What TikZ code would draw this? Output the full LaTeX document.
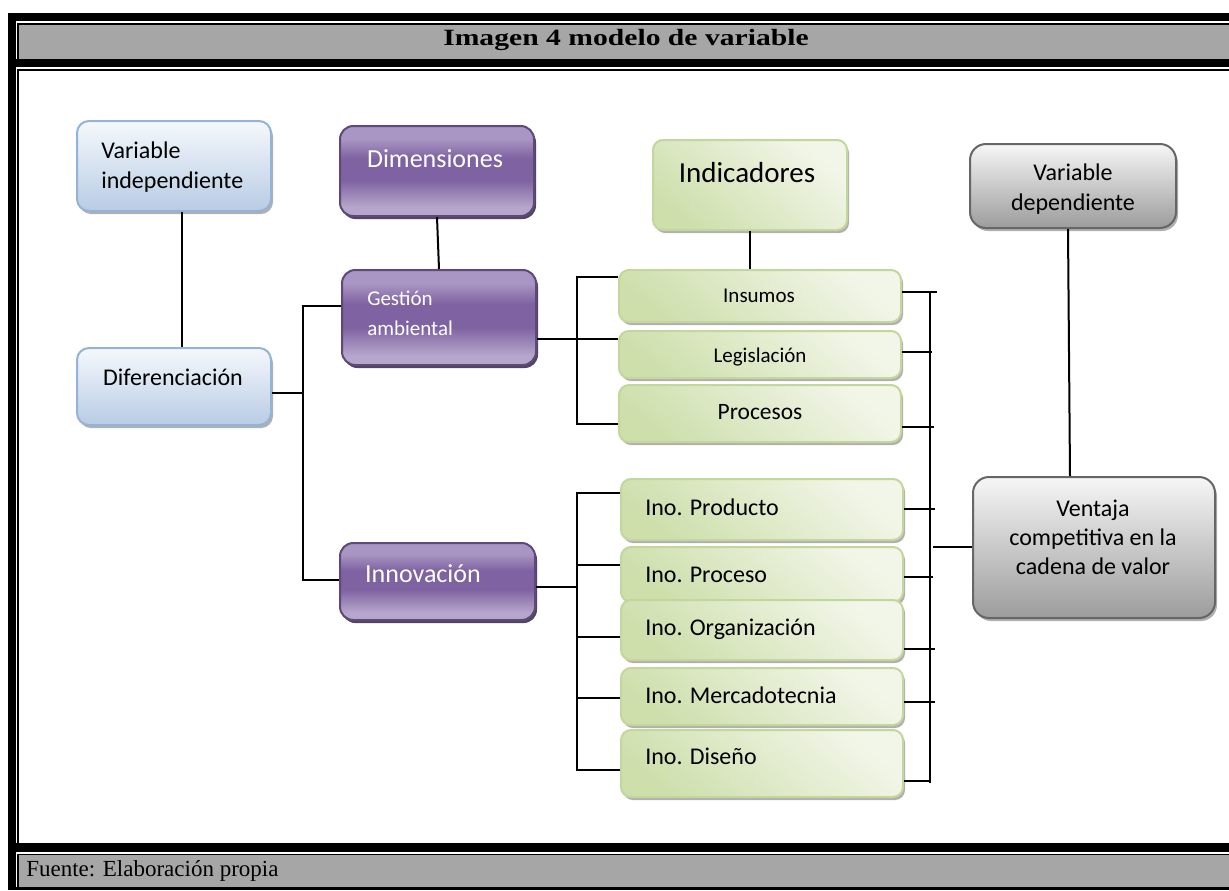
\documentclass[tikz,border=0pt]{standalone}
\usepackage{graphicx}
\usepackage{fontspec}
\setmainfont{Carlito}
\newfontfamily\timesf{Liberation Serif}
\usetikzlibrary{shadows,fit}
\definecolor{frameGray}{HTML}{A6A6A6}
\definecolor{bTop}{HTML}{F5F8FC}
\definecolor{bBot}{HTML}{B8CCE4}
\definecolor{bBrd}{HTML}{95B3D7}
\definecolor{pLight}{HTML}{B6A6CB}
\definecolor{pDark}{HTML}{7E62A1}
\definecolor{pTopc}{HTML}{AA96C4}
\definecolor{pBrd}{HTML}{5F497A}
\definecolor{pShadow}{HTML}{3F3151}
\definecolor{gLight}{HTML}{F2F6E9}
\definecolor{gDark}{HTML}{CEDFAC}
\definecolor{gBrd}{HTML}{C3D69B}
\definecolor{kTop}{HTML}{F6F6F6}
\definecolor{kBot}{HTML}{9C9C9C}
\definecolor{kBrd}{HTML}{666666}
\definecolor{shGray}{HTML}{A8A8A8}
\pgfdeclareverticalshading{purpsh}{100bp}{color(0bp)=(pLight); color(30bp)=(pLight); color(45bp)=(pDark); color(57bp)=(pDark); color(68bp)=(pTopc); color(100bp)=(pTopc)}
\newcommand\fsA{\fontsize{18pt}{22.5pt}\selectfont}
\newcommand\fsB{\fontsize{19.5pt}{23pt}\selectfont}
\newcommand\fsC{\fontsize{15.75pt}{22.5pt}\selectfont}
\newcommand\fsD{\fontsize{21.75pt}{26pt}\selectfont}
\newcommand\fsE{\fontsize{17.6pt}{21pt}\selectfont}
\newcommand\fsV{\fontsize{18pt}{21.5pt}\selectfont}
\newcommand\titlefont{\timesf\bfseries\fontsize{17.5pt}{20pt}\selectfont}
\newcommand\footfont{\timesf\fontsize{17.25pt}{20pt}\selectfont}
\begin{document}
\begin{tikzpicture}[x=0.75pt,y=-0.75pt,
  box/.style={inner sep=0pt, line width=1.5pt, rounded corners=9pt},
  bluebox/.style={box, draw=bBrd, top color=bTop, bottom color=bBot,
    drop shadow={shadow xshift=1.5pt, shadow yshift=-2.25pt, fill=shGray, opacity=0.9}},
  purpbox/.style={box, rounded corners=10pt, draw=pBrd, shade, shading=purpsh,
    drop shadow={shadow xshift=1.5pt, shadow yshift=-2.25pt, fill=pShadow, opacity=0.9}},
  greenbox/.style={box, rounded corners=7.5pt, draw=gBrd, top color=gLight, bottom color=gDark, shading angle=-40,
    drop shadow={shadow xshift=1.5pt, shadow yshift=-2.25pt, fill=shGray, opacity=0.9}},
  graybox/.style={box, rounded corners=12pt, draw=kBrd, top color=kTop, bottom color=kBot,
    drop shadow={shadow xshift=1.5pt, shadow yshift=-2.25pt, fill=shGray, opacity=0.9}},
  txt/.style={inner sep=0pt, text=black},
  wtxt/.style={inner sep=0pt, text=white},
  conn/.style={line width=1.5pt, draw=black}]
\useasboundingbox (0,0) rectangle (1229,890);
% table frame
\fill[black] (8,12.7) rectangle (1229,890);
\fill[white] (16,21.3) rectangle (1229,58.7);
\fill[black] (17.3,22.7) rectangle (1229,58.7);
\fill[frameGray] (19.3,24.7) rectangle (1229,58.7);
\fill[white] (16,66.7) rectangle (1229,843.3);
\fill[black] (17.3,68.7) rectangle (1229,843.3);
\fill[white] (19.3,70.7) rectangle (1229,843.3);
\fill[white] (16,852) rectangle (1229,887);
\fill[black] (17.3,854) rectangle (1229,887);
\fill[frameGray] (19.3,855.3) rectangle (1229,887);
\node[anchor=base, inner sep=0pt] (title) at (626,45) {\scalebox{1.27}[1]{\titlefont Imagen 4 modelo de variable}};
\node[anchor=base west, inner sep=0pt] (source) at (26,876.7) {\footfont Fuente: Elaboración propia};
% boxes
\node[bluebox, fit={(77,121) (271,211)}] (vi) {};
\node[bluebox, fit={(77,348) (271,425)}] (dif) {};
\node[purpbox, fit={(340,126) (534,216)}] (dim) {};
\node[purpbox, fit={(342,270) (536,365)}] (gest) {};
\node[purpbox, fit={(340,543) (535,620)}] (innov) {};
\node[greenbox, fit={(653,140) (847,230)}] (ind) {};
\node[greenbox, fit={(619,270) (901,322)}] (ins) {};
\node[greenbox, fit={(619,331) (901,378)}] (leg) {};
\node[greenbox, fit={(619,385) (901,442)}] (pro) {};
\node[greenbox, fit={(621,479) (903,540)}] (iprod) {};
\node[greenbox, fit={(621,547) (903,602)}] (iproc) {};
\node[greenbox, fit={(621,600) (903,660)}] (iorg) {};
\node[greenbox, fit={(621,668) (903,725)}] (imer) {};
\node[greenbox, fit={(621,730) (903,797)}] (idis) {};
\node[graybox, fit={(970,144) (1176,228)}] (vd) {};
\node[graybox, fit={(973,477) (1215,618)}] (vent) {};
% texts
\node[txt, anchor=base west] (viT) at (101,158) {\fsA\begin{tabular}[t]{@{}l@{}}Variable\\independiente\end{tabular}};
\node[txt, anchor=base] (difT) at (173,385) {\fsA Diferenciación};
\node[wtxt, anchor=base] (dimT) at (435,167) {\fsB Dimensiones};
\node[wtxt, anchor=base west] (gestT) at (367,305) {\fsC\begin{tabular}[t]{@{}l@{}}Gestión\\ambiental\end{tabular}};
\node[wtxt, anchor=base] (innovT) at (423,582) {\fsB Innovación};
\node[txt, anchor=base] (indT) at (747,182) {\fsD Indicadores};
\node[txt, anchor=base] (insT) at (759,302.7) {\fsC Insumos};
\node[txt, anchor=base] (legT) at (760,362) {\fsC Legislación};
\node[txt, anchor=base] (proT) at (760,419) {\fsE Procesos};
\node[txt, anchor=base west] (iprodT) at (645,515) {\fsA Ino. Producto};
\node[txt, anchor=base west] (iprocT) at (645,582.7) {\fsA Ino. Proceso};
\node[txt, anchor=base west] (iorgT) at (645,635) {\fsA Ino. Organización};
\node[txt, anchor=base west] (imerT) at (645,703) {\fsA Ino. Mercadotecnia};
\node[txt, anchor=base west] (idisT) at (645,764) {\fsA Ino. Diseño};
\node[txt, anchor=base] (vdT) at (1073,180.7) {\fsA\begin{tabular}[t]{@{}c@{}}Variable\\dependiente\end{tabular}};
\node[txt, anchor=base] (ventT) at (1093,516.7) {\fsV\begin{tabular}[t]{@{}c@{}}Ventaja\\competitiva en la\\cadena de valor\end{tabular}};
% junction coordinates
\coordinate (difR) at (303,393);
\coordinate (b1t) at (303,306);
\coordinate (b1b) at (303,580);
\coordinate (tb1) at (577,277);
\coordinate (tbm) at (577,339);
\coordinate (tb3) at (577,424);
\coordinate (lb1) at (577,493);
\coordinate (lb2) at (577,565);
\coordinate (lbm) at (577,587);
\coordinate (lb3) at (577,637);
\coordinate (lb4) at (577,698);
\coordinate (lb5) at (577,770);
\coordinate (rt) at (930,292);
\coordinate (rb) at (930,783);
\coordinate (r1) at (937,292);
\coordinate (r2) at (932,352);
\coordinate (r3) at (934,427);
\coordinate (r4) at (935,509);
\coordinate (r5) at (933,577);
\coordinate (r6) at (935,649);
\coordinate (r7) at (935,702);
\coordinate (r8) at (930,781);
\coordinate (rv) at (933,547);
% connectors
\draw[conn] ([xshift=6pt]vi.south) -- ([xshift=6pt]dif.north);
\draw[conn] (dif.east |- difR) -- (difR);
\draw[conn] (gest.west |- b1t) -- (b1t) -- (b1b) -- (innov.west |- b1b);
\draw[conn] (dim.south) -- (gest.north);
\draw[conn] (gest.east |- tbm) -- (tbm);
\draw[conn] (ins.west |- tb1) -- (tb1) -- (tb3) -- (pro.west |- tb3);
\draw[conn] (tbm) -- (leg.west |- tbm);
\draw[conn] (ind.south) -- (ind.south |- ins.north);
\draw[conn] (innov.east |- lbm) -- (lbm);
\draw[conn] (iprod.west |- lb1) -- (lb1) -- (lb5) -- (idis.west |- lb5);
\draw[conn] (lb2) -- (iproc.west |- lb2);
\draw[conn] (lb3) -- (iorg.west |- lb3);
\draw[conn] (lb4) -- (imer.west |- lb4);
\draw[conn] (rt) -- (rb);
\draw[conn] (ins.east |- r1) -- (r1);
\draw[conn] (leg.east |- r2) -- (r2);
\draw[conn] (pro.east |- r3) -- (r3);
\draw[conn] (iprod.east |- r4) -- (r4);
\draw[conn] (iproc.east |- r5) -- (r5);
\draw[conn] (iorg.east |- r6) -- (r6);
\draw[conn] (imer.east |- r7) -- (r7);
\draw[conn] (idis.east |- r8) -- (r8);
\draw[conn] (rv) -- (vent.west |- rv);
\draw[conn] ([xshift=-3.75pt]vd.south) -- ([xshift=-18pt]vent.north);
\end{tikzpicture}
\end{document}
